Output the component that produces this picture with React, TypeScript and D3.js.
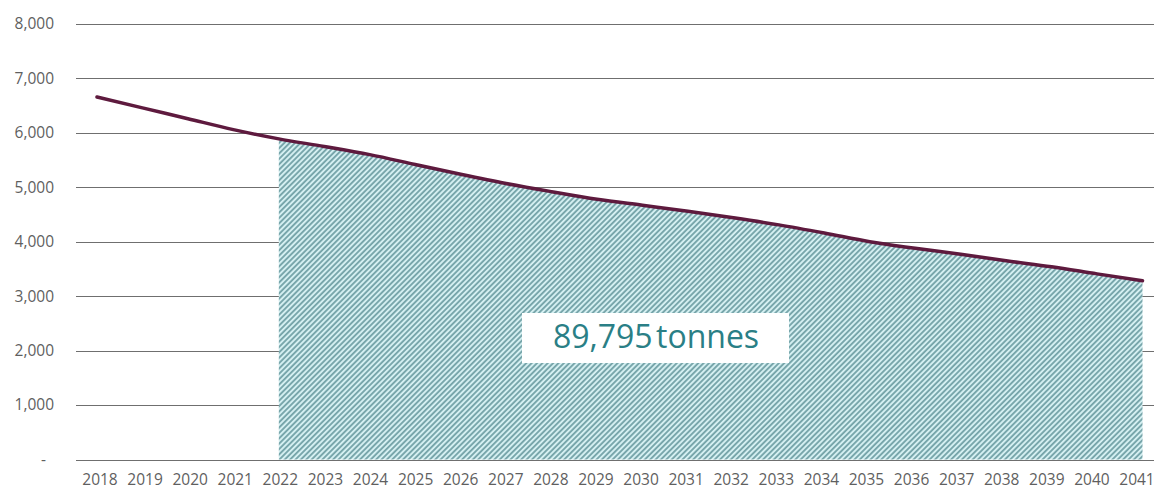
import React from "react";
import * as d3 from "d3";

const years: string[] = [
  "2018", "2019", "2020", "2021", "2022", "2023", "2024", "2025", "2026", "2027", "2028", "2029",
  "2030", "2031", "2032", "2033", "2034", "2035", "2036", "2037", "2038", "2039", "2040", "2041",
];
const emissions: number[] = [
  6660, 6460, 6260, 6060, 5890, 5750, 5600, 5420, 5240, 5070, 4920, 4780,
  4670, 4560, 4440, 4310, 4160, 4000, 3880, 3770, 3650, 3540, 3410, 3284,
];
const shadedFrom = "2022";
const yTicks: number[] = [0, 1000, 2000, 3000, 4000, 5000, 6000, 7000, 8000];
const annotation = "89,795 tonnes";

export default function App() {
  const W = 1154;
  const H = 491;
  const gridLeft = 76;
  const x = d3.scalePoint<string>().domain(years).range([97, 1142.5]);
  const xLabel = d3.scalePoint<string>().domain(years).range([100, 1137]);
  const y = d3.scaleLinear().domain([0, 8000]).range([459.5, 24]);

  const data = years.map((yr, i) => ({ yr, v: emissions[i] }));
  const shaded = data.filter((d) => +d.yr >= +shadedFrom);

  const line = d3
    .line<{ yr: string; v: number }>()
    .x((d) => x(d.yr)!)
    .y((d) => y(d.v))
    .curve(d3.curveMonotoneX);
  const area = d3
    .area<{ yr: string; v: number }>()
    .x((d) => x(d.yr)!)
    .y0(y(0))
    .y1((d) => y(d.v))
    .curve(d3.curveMonotoneX);

  const fmt = (v: number) => (v === 0 ? "-" : d3.format(",")(v));
  const font = "'Open Sans', 'Noto Sans', sans-serif";

  return (
    <svg
      width={W}
      height={H}
      style={{ position: "absolute", left: 0, top: 0, background: "#fff" }}
    >
      <defs>
        <pattern id="hatch" patternUnits="userSpaceOnUse" width="3.8" height="3.8" patternTransform="rotate(-45)">
          <rect width="3.8" height="3.8" fill="#d4eff1" />
          <line x1="0" y1="1.9" x2="3.8" y2="1.9" stroke="#5f9298" strokeWidth="1.5" />
        </pattern>
      </defs>
      {yTicks.map((t) => (
        <g key={t}>
          <line x1={gridLeft} x2={W} y1={Math.round(y(t)) + 0.5} y2={Math.round(y(t)) + 0.5} stroke="#6f6f6f" strokeWidth={1} />
          <text
            x={t === 0 ? 46 : 54}
            y={y(t)}
            dy="0.35em"
            textAnchor="end"
            fontFamily={font}
            fontSize={15.5}
            fill="#5f5f5f"
          >
            {fmt(t)}
          </text>
        </g>
      ))}
      <path d={area(shaded)!} fill="url(#hatch)" />
      <line x1={gridLeft} x2={W} y1={Math.round(y(0)) + 0.5} y2={Math.round(y(0)) + 0.5} stroke="#6f6f6f" strokeWidth={1} />
      <path d={line(data)!} fill="none" stroke="#5e1a3e" strokeWidth={3.5} strokeLinecap="round" />
      {years.map((yr) => (
        <text
          key={yr}
          x={xLabel(yr)!}
          y={485}
          textAnchor="middle"
          fontFamily={font}
          fontSize={15.5}
          fill="#5f5f5f"
        >
          {yr}
        </text>
      ))}
      <rect x={522} y={313} width={267} height={50} fill="#fff" />
      <text x={656} y={348} textAnchor="middle" fontFamily={font} fontSize={32} wordSpacing={-5} fill="#2a7f86">
        {annotation}
      </text>
    </svg>
  );
}
